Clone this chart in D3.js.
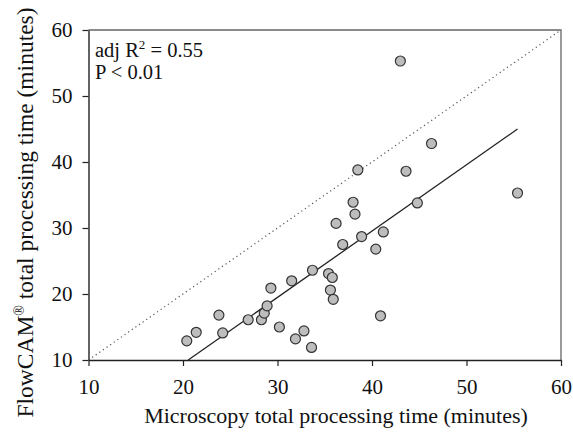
<!DOCTYPE html>
<html>
<head>
<meta charset="utf-8">
<script src="https://cdn.jsdelivr.net/npm/d3@7"></script>
<style>
  body { margin: 0; background: #fff; }
  text { font-family: "Liberation Serif", "Times New Roman", serif; fill: #111; }
</style>
</head>
<body>
<div id="chart"></div>
<script>
"use strict";

// data
var microscopy = [20.4, 21.4, 23.8, 24.2, 26.9, 28.3, 28.6, 28.9, 29.3, 30.2, 31.5, 31.9, 32.8, 33.6, 33.7,
                  35.4, 35.8, 35.6, 35.9, 36.2, 36.9, 38.0, 38.2, 38.5, 38.9, 40.4, 41.2, 40.9, 43.0, 43.6,
                  44.8, 46.3, 55.4];
var flowcam =    [12.9, 14.2, 16.8, 14.1, 16.1, 16.1, 17.1, 18.2, 20.9, 15.0, 22.0, 13.2, 14.4, 11.9, 23.6,
                  23.1, 22.5, 20.6, 19.2, 30.7, 27.5, 33.9, 32.1, 38.8, 28.7, 26.8, 29.4, 16.7, 55.3, 38.6,
                  33.8, 42.8, 35.3];
var fitLine = [[20.55, 10], [55.4, 45.0]];
var oneToOne = [[10, 10], [60, 60]];
var xTicks = [10, 20, 30, 40, 50, 60];
var yTicks = [10, 20, 30, 40, 50, 60];

var W = 573, H = 432;
var margin = {top: 30, right: 12, bottom: 72, left: 88.5};

var svg = d3.select("#chart").append("svg")
    .attr("width", W)
    .attr("height", H);

var x = d3.scaleLinear().domain([10, 60]).range([margin.left, W - margin.right]);
var y = d3.scaleLinear().domain([10, 60]).range([H - margin.bottom, margin.top]);

// frame top/right
svg.append("path")
    .attr("d", `M${x(10)},${y(60)}H${x(60)}V${y(10)}`)
    .attr("fill", "none")
    .attr("stroke", "#666")
    .attr("stroke-width", 1.3);

// axes
var xAxis = svg.append("g")
    .attr("transform", `translate(0,${y(10)})`)
    .call(d3.axisBottom(x).tickValues(xTicks).tickSize(6).tickSizeOuter(0).tickPadding(13));
var yAxis = svg.append("g")
    .attr("transform", `translate(${x(10)},0)`)
    .call(d3.axisLeft(y).tickValues(yTicks).tickSize(6).tickSizeOuter(0).tickPadding(10));

[xAxis, yAxis].forEach(function (g) {
    g.select(".domain").attr("stroke", "#222").attr("stroke-width", 1.4);
    g.selectAll(".tick line").attr("stroke", "#222").attr("stroke-width", 1.2);
    g.selectAll(".tick text")
        .style("font-family", '"Liberation Serif", serif')
        .style("font-size", "21px")
        .attr("fill", "#111");
});

// 1:1 line
var line = d3.line().x(d => x(d[0])).y(d => y(d[1]));
svg.append("path")
    .attr("d", line(oneToOne))
    .attr("fill", "none")
    .attr("stroke", "#555")
    .attr("stroke-width", 1.2)
    .attr("stroke-dasharray", "1.2,3.2");

// regression line
svg.append("path")
    .attr("d", line(fitLine))
    .attr("fill", "none")
    .attr("stroke", "#222")
    .attr("stroke-width", 1.3);

// points
svg.append("g")
    .selectAll("circle")
    .data(microscopy.map((v, i) => [v, flowcam[i]]))
    .join("circle")
    .attr("cx", d => x(d[0]))
    .attr("cy", d => y(d[1]))
    .attr("r", 5)
    .attr("fill", "#bdbdbd")
    .attr("stroke", "#333")
    .attr("stroke-width", 1.2);

// stats text
var t1 = svg.append("text")
    .attr("x", 95)
    .attr("y", 57)
    .style("font-size", "20.5px");
t1.append("tspan").text("adj R");
t1.append("tspan").attr("dy", -8).style("font-size", "13px").text("2");
t1.append("tspan").attr("dy", 8).text(" = 0.55");

svg.append("text")
    .attr("x", 95)
    .attr("y", 79)
    .style("font-size", "20.5px")
    .text("P < 0.01");

// axis titles
svg.append("text")
    .attr("x", 336)
    .attr("y", 423)
    .attr("text-anchor", "middle")
    .style("font-size", "22px")
    .text("Microscopy total processing time (minutes)");

var yl = svg.append("text")
    .attr("transform", `translate(33,212.5) rotate(-90)`)
    .attr("text-anchor", "middle")
    .style("font-size", "23.5px");
yl.append("tspan").text("FlowCAM");
yl.append("tspan").attr("dy", -9).style("font-size", "14px").text("®");
yl.append("tspan").attr("dy", 9).text(" total processing time (minutes)");
</script>
</body>
</html>
